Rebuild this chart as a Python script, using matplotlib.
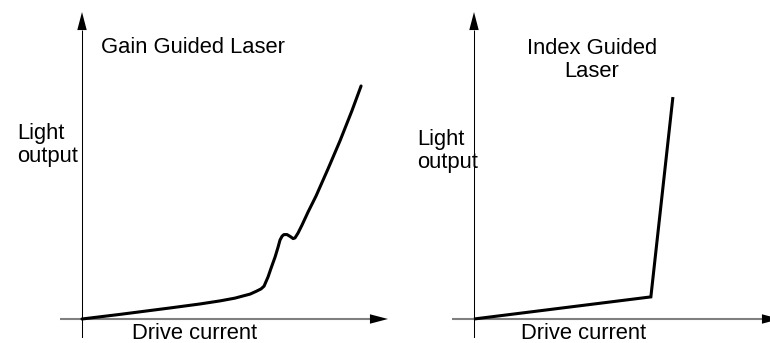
import matplotlib
matplotlib.use('Agg')
import matplotlib.pyplot as plt

plt.rcParams['font.family'] = ['Liberation Sans', 'DejaVu Sans']

# Gain guided laser: light output vs drive current (arbitrary units)
gain_current = [0.0, 1.24, 2.88, 3.86, 4.51, 5.00, 5.26, 5.49, 5.69, 5.85,
                5.95, 6.01, 6.08, 6.18, 6.31, 6.41, 6.47, 6.54, 6.60, 6.70,
                6.80, 6.90, 6.96, 7.06, 7.19, 7.39, 7.65, 8.04, 8.43, 8.82, 9.12]
gain_light = [0.0, 0.15, 0.36, 0.49, 0.59, 0.68, 0.75, 0.81, 0.90, 0.98,
              1.07, 1.21, 1.37, 1.66, 2.02, 2.35, 2.57, 2.70, 2.75, 2.75,
              2.69, 2.62, 2.64, 2.80, 3.06, 3.49, 4.01, 4.89, 5.80, 6.78, 7.59]

# Index guided laser: sharp kink at threshold
index_current = [0.0, 5.78, 6.50]
index_light = [0.0, 0.72, 7.23]

titles = ['Gain Guided Laser', 'Index Guided\nLaser']
xlabel = 'Drive current'
ylabel = 'Light\noutput'

fig = plt.figure(figsize=(7.7, 3.43), dpi=100)
W, H = 770.0, 343.0
FS = 15.8


def make_axes(left_px):
    # box in pixels: width 328, top at 12, bottom at 338
    ax = fig.add_axes([left_px / W, 5 / H, 328 / W, 326 / H])
    ax.set_xlim(-0.719, 10)
    ax.set_ylim(-0.619, 10)
    ax.axis('off')
    # axis lines
    ax.plot([-0.719, 9.4], [0, 0], color='#7f7f7f', lw=1.5, solid_capstyle='butt')
    ax.plot([0, 0], [-0.619, 9.4], color='black', lw=0.75, solid_capstyle='butt')
    # arrow heads
    head = dict(arrowstyle='-|>,head_length=13,head_width=3.4', color='black',
                lw=0, shrinkA=0, shrinkB=0, mutation_scale=1)
    ax.annotate('', xy=(10, 0), xytext=(9.3, 0), arrowprops=head, annotation_clip=False)
    ax.annotate('', xy=(0, 10), xytext=(0, 9.3), arrowprops=head, annotation_clip=False)
    return ax


ax1 = make_axes(60)
ax1.plot(gain_current, gain_light, color='black', lw=2.2,
         solid_joinstyle='round', solid_capstyle='round')
ax1.text(0.62, 8.83, titles[0], fontsize=FS, ha='left', va='center')
ax1.text(-2.12, 5.67, ylabel, fontsize=FS, ha='left', va='center',
         multialignment='left', linespacing=1.1)
ax1.text(3.69, -0.47, xlabel, fontsize=FS, ha='center', va='center')

ax2 = make_axes(452)
ax2.plot(index_current, index_light, color='black', lw=2.2,
         solid_joinstyle='miter', solid_capstyle='butt')
ax2.text(3.86, 8.44, titles[1], fontsize=FS, ha='center', va='center',
         multialignment='center', linespacing=1.1)
ax2.text(-1.86, 5.47, ylabel, fontsize=FS, ha='left', va='center',
         multialignment='left', linespacing=1.1)
ax2.text(3.58, -0.47, xlabel, fontsize=FS, ha='center', va='center')

fig.savefig('out.png', dpi=100)
